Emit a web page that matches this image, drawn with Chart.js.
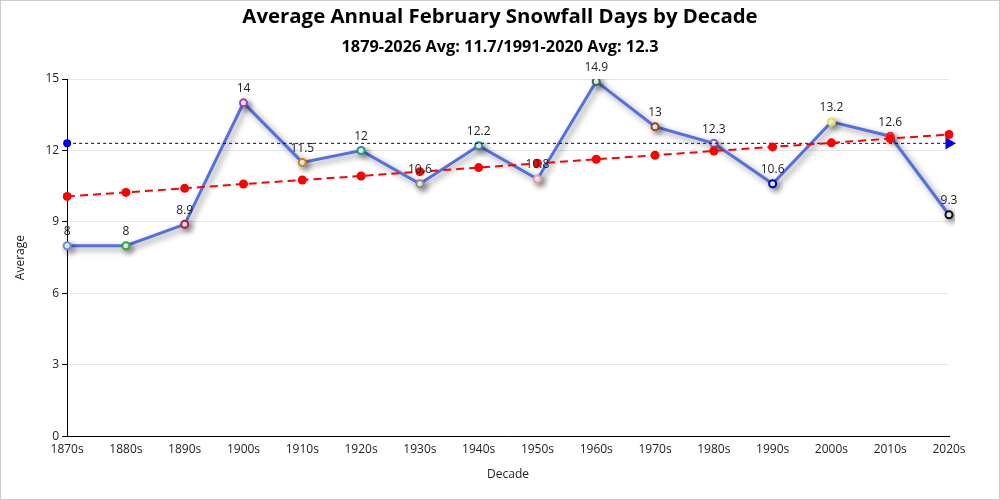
<!DOCTYPE html>
<html>
<head>
<meta charset="utf-8">
<script src="https://cdn.jsdelivr.net/npm/chart.js@4.4.1/dist/chart.umd.min.js"></script>
<style>
  body { margin: 0; background: #fff; }
  .wrap { width: 1000px; height: 500px; border: 1px solid #ccc; box-sizing: border-box; }
</style>
</head>
<body>
<div class="wrap"><canvas id="snowChart"></canvas></div>
<script>
// datos
const decades = ['1870s', '1880s', '1890s', '1900s', '1910s', '1920s', '1930s', '1940s',
                 '1950s', '1960s', '1970s', '1980s', '1990s', '2000s', '2010s', '2020s'];
const averages = [8, 8, 8.9, 14, 11.5, 12, 10.6, 12.2, 10.8, 14.9, 13, 12.3, 10.6, 13.2, 12.6, 9.3];
const trend = [10.07, 10.24, 10.41, 10.59, 10.76, 10.93, 11.11, 11.28,
               11.46, 11.63, 11.80, 11.98, 12.15, 12.32, 12.50, 12.67];
const normal = 12.3;
const yTicks = [0, 3, 6, 9, 12, 15];
const pointColors = ['#6a8ee0', '#33aa33', '#b3184a', '#a23fbf', '#d9800a', '#1a9e8a', '#8c8c8c', '#2e8b9a',
                     '#e8a0a8', '#2f6b5e', '#8b4e1c', '#7a5fc8', '#0000cc', '#e6e04a', '#cc3333', '#111111'];

const FONT = '"Open Sans", "Noto Sans", sans-serif';

// sombra para la linea principal
const shadowPlugin = {
    id: 'shadow',
    beforeDatasetDraw(chart, args) {
        if (args.index !== 0) return;
        const ctx = chart.ctx;
        ctx.save();
        ctx.shadowColor = 'rgba(0,0,0,0.45)';
        ctx.shadowBlur = 6;
        ctx.shadowOffsetX = 3;
        ctx.shadowOffsetY = 3;
    },
    afterDatasetDraw(chart, args) {
        if (args.index !== 0) return;
        chart.ctx.restore();
    }
};

// etiquetas de valor encima de cada punto
const labelPlugin = {
    id: 'valueLabels',
    afterDatasetsDraw(chart) {
        const ctx = chart.ctx;
        const meta = chart.getDatasetMeta(0);
        ctx.save();
        ctx.font = '12px ' + FONT;
        ctx.fillStyle = '#222';
        ctx.textAlign = 'center';
        ctx.textBaseline = 'bottom';
        meta.data.forEach((pt, i) => {
            ctx.fillText(String(averages[i]), pt.x, pt.y - 8);
        });
        ctx.restore();
    }
};

const ctx = document.getElementById('snowChart').getContext('2d');
const snowChart = new Chart(ctx, {
    type: 'line',
    data: {
        labels: decades,
        datasets: [{
            label: 'Average',
            data: averages,
            borderColor: '#5470e0',
            borderWidth: 3,
            backgroundColor: '#fff',
            pointBackgroundColor: '#fff',
            pointBorderColor: pointColors,
            pointBorderWidth: 2,
            pointRadius: 3.5,
            tension: 0,
            order: 3
        }, {
            label: '1991-2020 Avg',
            data: decades.map(() => normal),
            borderColor: '#000060',
            borderWidth: 1,
            borderDash: [3, 3],
            pointStyle: decades.map((d, i) => i === decades.length - 1 ? 'triangle' : 'circle'),
            rotation: 90,
            pointRadius: decades.map((d, i) => i === 0 ? 4 : (i === decades.length - 1 ? 7 : 0)),
            pointBackgroundColor: '#0000ee',
            pointBorderColor: '#0000ee',
            pointBorderWidth: 0,
            order: 2
        }, {
            label: 'Trend',
            data: trend,
            borderColor: '#ff0000',
            borderWidth: 2,
            borderDash: [8, 5],
            pointRadius: 4.5,
            pointBorderWidth: 0,
            pointBackgroundColor: '#ff0000',
            pointBorderColor: '#ff0000',
            order: 1
        }]
    },
    options: {
        responsive: true,
        maintainAspectRatio: false,
        animation: false,
        layout: { padding: { left: 0, right: 0, top: 0, bottom: 13 } },
        plugins: {
            legend: { display: false },
            tooltip: { enabled: false },
            title: {
                display: true,
                text: 'Average Annual February Snowfall Days by Decade',
                color: '#000',
                font: { family: FONT, size: 20.4, weight: 'bold' },
                padding: { top: 4, bottom: 6 }
            },
            subtitle: {
                display: true,
                text: '1879-2026 Avg: 11.7/1991-2020 Avg: 12.3',
                color: '#000',
                font: { family: FONT, size: 16.3, weight: 'bold' },
                padding: { top: 2, bottom: 22 }
            }
        },
        scales: {
            x: {
                offset: false,
                grid: { display: false, drawTicks: true, tickLength: 4 },
                border: { color: '#000', width: 1 },
                ticks: { color: '#222', font: { family: FONT, size: 12 }, maxRotation: 0, padding: 2 },
                title: { display: true, text: 'Decade', color: '#222', font: { family: FONT, size: 12 },
                         padding: { top: 9, bottom: 4 } }
            },
            y: {
                min: 0,
                max: 15,
                afterBuildTicks(axis) { axis.ticks = yTicks.map(v => ({ value: v })); },
                grid: { color: '#e6e6e6', tickColor: '#000', tickLength: 5 },
                border: { color: '#000', width: 1 },
                ticks: { color: '#222', font: { family: FONT, size: 12 } },
                title: { display: true, text: 'Average', color: '#222', font: { family: FONT, size: 12 },
                         padding: { top: 12, bottom: 15 } }
            },
            // eje vacio a la derecha solo para dejar margen sin descentrar el titulo
            spacer: {
                position: 'right',
                display: true,
                grid: { display: false, drawTicks: false },
                border: { display: false },
                ticks: { display: false },
                afterFit(scale) { scale.width = 50; }
            }
        }
    },
    plugins: [shadowPlugin, labelPlugin]
});
</script>
</body>
</html>
